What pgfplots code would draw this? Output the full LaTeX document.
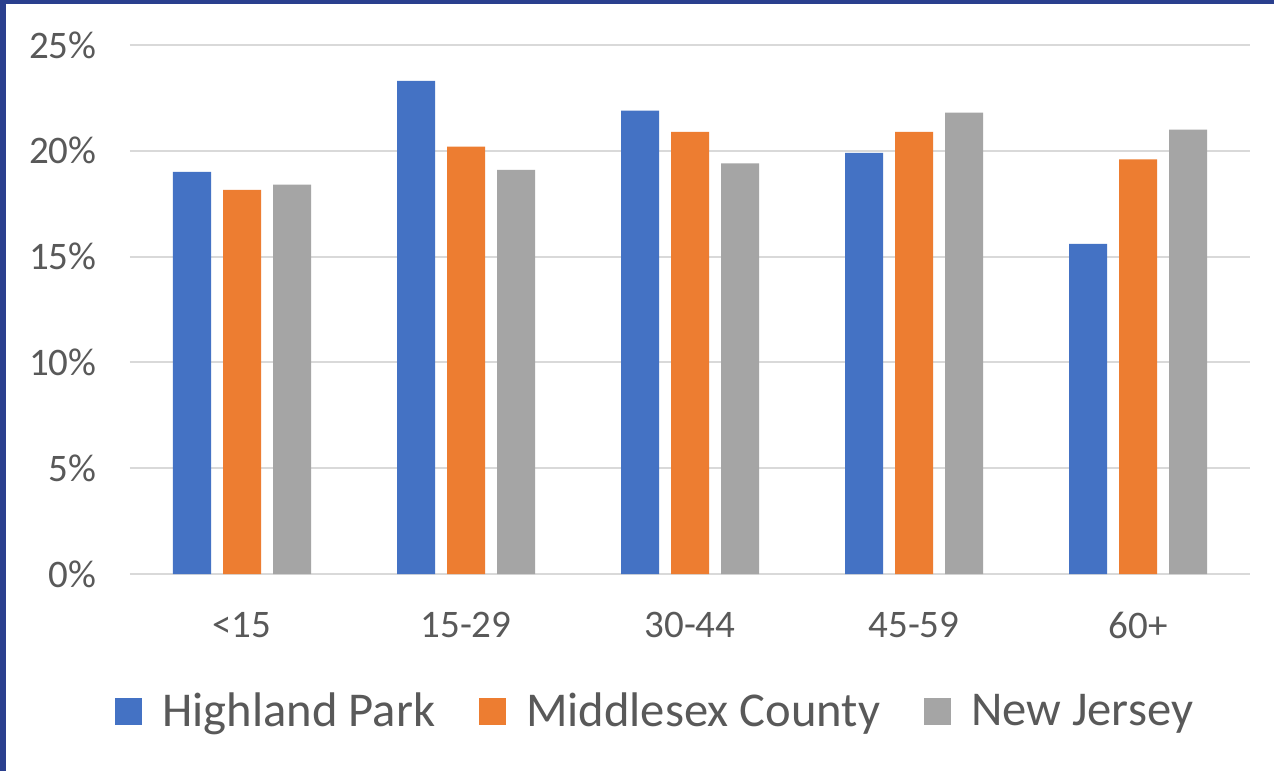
\documentclass[border=0pt]{standalone}
\usepackage{pgfplots}
\pgfplotsset{compat=1.18}
\usepackage{fontspec}
\setmainfont{Carlito}
\definecolor{cblue}{HTML}{4472C4}
\definecolor{corange}{HTML}{ED7D31}
\definecolor{cgray}{HTML}{A5A5A5}
\definecolor{navy}{HTML}{2A3F8E}
\definecolor{txt}{HTML}{595959}
\definecolor{gridc}{HTML}{D9D9D9}
\begin{document}
\begin{tikzpicture}
\fill[navy] (-65pt,-98.5pt) rectangle (572pt,287pt);
\fill[white] (-62pt,-98.5pt) rectangle (572pt,285pt);
\begin{axis}[
  at={(0pt,0pt)}, anchor=south west,
  scale only axis, width=560pt, height=264.5pt,
  ybar=6pt, bar width=19pt,
  xmin=-0.5, xmax=4.5, ymin=0, ymax=25,
  xtick=data, xticklabels={{<15},{15-29},{30-44},{45-59},{60+}},
  ytick={0,5,10,15,20,25},
  yticklabels={0\%,5\%,10\%,15\%,20\%,25\%},
  major tick length=0pt,
  axis line style={draw=none},
  ymajorgrids, grid style={gridc, line width=1pt},
  tick label style={font=\fontsize{19.5pt}{22pt}\selectfont, text=txt},
  xticklabel style={anchor=center, yshift=-25.5pt},
  yticklabel style={anchor=east, inner xsep=0pt, xshift=-16.5pt},
  legend style={at={(0.468,-0.260)}, anchor=center, draw=none, fill=none,
    legend columns=-1, font=\fontsize{24.3pt}{28pt}\selectfont, text=txt,
    /tikz/every odd column/.append style={column sep=10pt},
    /tikz/every even column/.append style={column sep=22pt},
    nodes={inner xsep=0pt}},
  legend image code/.code={\fill[#1] (0pt,-6.5pt) rectangle (13.5pt,7pt);},
  clip=false,
]
\addplot[fill=cblue, draw=none] coordinates {(0,19.0) (1,23.3) (2,21.9) (3,19.9) (4,15.6)};
\addplot[fill=corange, draw=none] coordinates {(0,18.15) (1,20.2) (2,20.9) (3,20.9) (4,19.6)};
\addplot[fill=cgray, draw=none] coordinates {(0,18.4) (1,19.1) (2,19.4) (3,21.8) (4,21.0)};
\legend{Highland Park, Middlesex County, New Jersey}
\end{axis}
\pgfresetboundingbox
\useasboundingbox (-65pt,-98.5pt) rectangle (572pt,287pt);
\end{tikzpicture}
\end{document}
